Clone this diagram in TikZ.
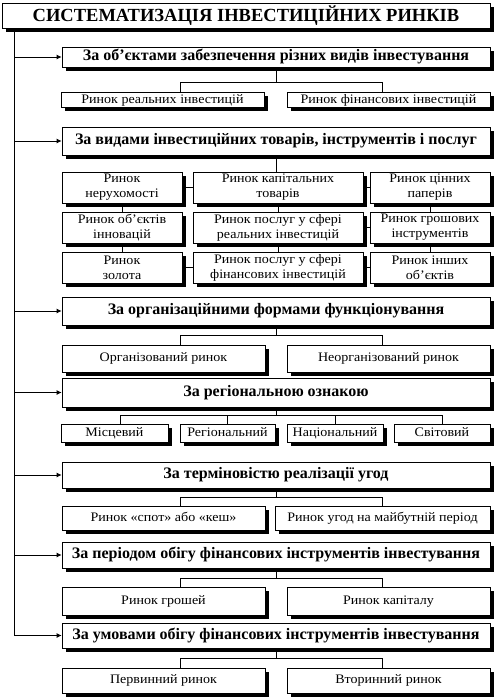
\documentclass[tikz,border=0pt]{standalone}
\usepackage{fontspec}
\setmainfont{Liberation Serif}
\newfontfamily\chf[FakeStretch=1.08]{Liberation Serif}
\usetikzlibrary{shadows,arrows.meta}
\begin{document}
\begin{tikzpicture}[x=1pt,y=-1pt,
  base/.style={draw, fill=white, line width=0.8pt, inner sep=0pt,
    drop shadow={shadow xshift=3.6pt, shadow yshift=-3.6pt, fill=black, opacity=1}},
  ttl/.style={base, font=\bfseries\fontsize{18.5}{21}\selectfont, text height=12.5pt, text depth=1pt},
  cat/.style={base, minimum width=428pt, font=\bfseries\fontsize{16}{18}\selectfont, text height=11pt, text depth=3.5pt},
  leaf/.style={base, font=\chf\fontsize{13}{15}\selectfont, align=center},
  one/.style={leaf, text height=9pt, text depth=3pt},
  half/.style={one, minimum width=203pt},
  gs/.style={leaf, minimum width=120pt, minimum height=31pt},
  gm/.style={leaf, minimum width=170pt, minimum height=31pt},
  arr/.style={-{Latex[length=5pt,width=5pt]}, line width=0.8pt},
  ln/.style={line width=0.8pt}]
\useasboundingbox (0,0) rectangle (498,699);
\coordinate (sp) at (14,0);
\node[ttl, minimum width=488pt, minimum height=25pt] (t) at (246,15.5) {СИСТЕМАТИЗАЦІЯ ІНВЕСТИЦІЙНИХ РИНКІВ};
% group 1
\node[cat, minimum height=20pt] (c1) at (276,57) {За об’єктами забезпечення різних видів інвестування};
\node[half, minimum height=15.5pt] (c1a) at (162.5,100) {Ринок реальних інвестицій};
\node[half, minimum height=15.5pt] (c1b) at (388.5,100) {Ринок фінансових інвестицій};
% group 2
\node[cat, minimum height=28pt] (c2) at (276,141) {За видами інвестиційних товарів, інструментів і послуг};
\node[gs] (g11) at (122,187.5) {Ринок\\нерухомості};
\node[gm] (g12) at (278,187.5) {Ринок капітальних\\товарів};
\node[gs] (g13) at (430,187.5) {Ринок цінних\\паперів};
\node[gs] (g21) at (122,227.5) {Ринок об’єктів\\інновацій};
\node[gm] (g22) at (278,227.5) {Ринок послуг у сфері\\реальних інвестицій};
\node[gs] (g23) at (430,227.5) {Ринок грошових\\інструментів};
\node[gs] (g31) at (122,267.5) {Ринок\\золота};
\node[gm] (g32) at (278,267.5) {Ринок послуг у сфері\\фінансових інвестицій};
\node[gs] (g33) at (430,267.5) {Ринок інших\\об’єктів};
% group 3
\node[cat, minimum height=28pt] (c3) at (276,311) {За організаційними формами функціонування};
\node[half, minimum height=27pt] (c3a) at (163.5,358.5) {Організований ринок};
\node[half, minimum height=27pt] (c3b) at (388.5,358.5) {Неорганізований ринок};
% group 4
\node[cat, minimum height=29pt] (c4) at (276,392.5) {За регіональною ознакою};
\node[one, minimum width=107pt, minimum height=18pt] (c4a) at (114.5,433) {Місцевий};
\node[one, minimum width=95pt, minimum height=18pt] (c4b) at (227.5,433) {Регіональний};
\node[one, minimum width=96pt, minimum height=18pt] (c4c) at (335,433) {Національний};
\node[one, minimum width=96pt, minimum height=18pt] (c4d) at (442,433) {Світовий};
% group 5
\node[cat, minimum height=26pt] (c5) at (276,475) {За терміновістю реалізації угод};
\node[half, minimum height=24pt] (c5a) at (163.5,518) {Ринок «спот» або «кеш»};
\node[one, minimum width=215pt, minimum height=24pt] (c5b) at (382.5,518) {Ринок угод на майбутній період};
% group 6
\node[cat, minimum height=26pt] (c6) at (276,555) {За періодом обігу фінансових інструментів інвестування};
\node[half, minimum height=28pt] (c6a) at (163.5,601) {Ринок грошей};
\node[half, minimum height=28pt] (c6b) at (388.5,601) {Ринок капіталу};
% group 7
\node[cat, minimum height=25pt] (c7) at (276,635.5) {За умовами обігу фінансових інструментів інвестування};
\node[half, minimum height=25pt] (c7a) at (163.5,680.5) {Первинний ринок};
\node[half, minimum height=25pt] (c7b) at (388.5,680.5) {Вторинний ринок};
% spine and arrows
\draw[ln] (t.south -| sp) -- (sp |- c7.west);
\foreach \n in {c1,c2,c3,c4,c5,c6,c7} \draw[arr] (sp |- \n.west) -- (\n.west);
% two-child connectors
\draw[ln] (c1.south) -- ++(0,15) -| ([xshift=17.5pt]c1a.north);
\draw[ln] (c1.south) ++(0,15) -| ([xshift=-6.5pt]c1b.north);
\draw[ln] (c3.south) -- ++(0,10) -| ([xshift=16.5pt]c3a.north);
\draw[ln] (c3.south) ++(0,10) -| ([xshift=-6.5pt]c3b.north);
\draw[ln] (c5.south) -- ++(0,9) -| ([xshift=16.5pt]c5a.north);
\draw[ln] (c5.south) ++(0,9) -| ([xshift=-0.5pt]c5b.north);
\draw[ln] (c6.south) -- ++(0,10) -| ([xshift=16.5pt]c6a.north);
\draw[ln] (c6.south) ++(0,10) -| ([xshift=-6.5pt]c6b.north);
\draw[ln] (c7.south) -- ++(0,10) -| ([xshift=16.5pt]c7a.north);
\draw[ln] (c7.south) ++(0,10) -| ([xshift=-6.5pt]c7b.north);
% four-child connectors
\coordinate (d4a) at ([xshift=6pt]c4a.north);
\coordinate (d4b) at (c4b.north);
\coordinate (d4c) at (c4c.north);
\coordinate (d4d) at (c4d.north);
\draw[ln] (c4.south) -- ++(0,8) coordinate (h4);
\draw[ln] (h4 -| d4a) -- (h4 -| d4d);
\foreach \d in {d4a,d4b,d4c,d4d} \draw[ln] (h4 -| \d) -- (\d);
% grid connectors
\draw[ln] (c2.south) -- (c2.south |- g12.north);
\draw[ln] (g11.east) -- (g12.west);
\draw[ln] (g12.east) -- (g13.west);
\draw[ln] (g22.east) -- (g23.west);
\draw[ln] (g31.east) -- (g32.west);
\draw[ln] (g32.east) -- (g33.west);
\draw[ln] (g11.south) -- (g21.north);
\draw[ln] (g12.south) -- (g22.north);
\draw[ln] (g13.south) -- (g23.north);
\draw[ln] (g21.south) -- (g31.north);
\draw[ln] (g22.south) -- (g32.north);
\draw[ln] (g23.south) -- (g33.north);
\end{tikzpicture}
\end{document}
